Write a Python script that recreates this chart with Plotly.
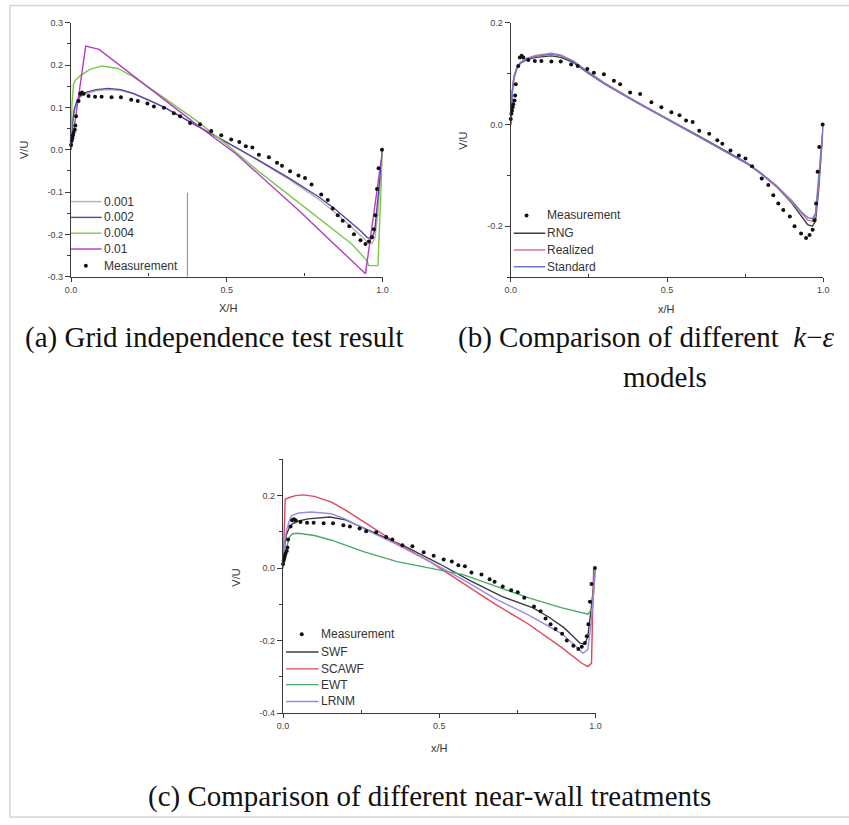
import plotly.graph_objects as go

W, H = 849, 825

# ---------------- measurement (shared) ----------------
meas_x = [0, 0.002, 0.004, 0.006, 0.008, 0.012, 0.014, 0.016, 0.024, 0.029, 0.035, 0.04, 0.056, 0.077,
          0.098, 0.13, 0.16, 0.193, 0.214, 0.245, 0.266, 0.298, 0.33, 0.35, 0.382, 0.414, 0.45, 0.482,
          0.514, 0.54, 0.561, 0.582, 0.603, 0.635, 0.661, 0.677, 0.703, 0.73, 0.751, 0.772, 0.803,
          0.824, 0.84, 0.856, 0.872, 0.893, 0.908, 0.929, 0.945, 0.956, 0.966, 0.972, 0.977, 0.982,
          0.987, 0.998]
meas_y = [0.011, 0.021, 0.027, 0.034, 0.04, 0.047, 0.057, 0.079, 0.115, 0.132, 0.135, 0.132, 0.127,
          0.125, 0.125, 0.124, 0.124, 0.118, 0.115, 0.109, 0.102, 0.099, 0.086, 0.079, 0.063, 0.06,
          0.044, 0.034, 0.024, 0.018, 0.008, 0.005, -0.012, -0.018, -0.031, -0.038, -0.051, -0.061,
          -0.067, -0.082, -0.106, -0.119, -0.139, -0.155, -0.168, -0.181, -0.2, -0.214, -0.223,
          -0.217, -0.207, -0.188, -0.155, -0.093, -0.044, 0.0]

# ---------------- panel (a): grid independence ----------------
a_names = ["0.001", "0.002", "0.004", "0.01"]
a_colors = ["#c4a9a6", "#4b48a8", "#7cc94a", "#b53ac4"]
a_x_001 = [0, 0.005, 0.01, 0.02, 0.03, 0.05, 0.08, 0.12, 0.16, 0.2, 0.25, 0.3, 0.4, 0.5, 0.6, 0.7,
           0.75, 0.8, 0.85, 0.9, 0.93, 0.95, 0.965, 0.975, 0.985, 1.0]
a_y_001 = [0, 0.06, 0.09, 0.115, 0.125, 0.133, 0.139, 0.142, 0.14, 0.132, 0.116, 0.1, 0.058, 0.018,
           -0.025, -0.07, -0.095, -0.12, -0.15, -0.182, -0.203, -0.218, -0.222, -0.21, -0.15, 0.0]
a_x_002 = a_x_001
a_y_002 = [0, 0.065, 0.095, 0.118, 0.128, 0.136, 0.142, 0.145, 0.142, 0.133, 0.117, 0.1, 0.058, 0.018,
           -0.024, -0.067, -0.09, -0.114, -0.142, -0.172, -0.192, -0.207, -0.21, -0.19, -0.12, 0.0]
a_x_004 = [0, 0.003, 0.008, 0.015, 0.03, 0.06, 0.1, 0.15, 0.2, 0.25, 0.3, 0.4, 0.5, 0.6, 0.7, 0.8,
           0.9, 0.95, 0.955, 0.985, 1.0]
a_y_004 = [0, 0.11, 0.155, 0.165, 0.175, 0.19, 0.198, 0.192, 0.172, 0.148, 0.122, 0.07, 0.012, -0.05,
           -0.107, -0.165, -0.222, -0.262, -0.274, -0.274, 0.0]
a_x_01 = [0, 0.01, 0.02, 0.03, 0.047, 0.09, 0.2, 0.317, 0.4, 0.528, 0.6, 0.739, 0.8, 0.9, 0.945, 1.0]
a_y_01 = [0, 0.05, 0.11, 0.15, 0.245, 0.237, 0.174, 0.107, 0.061, -0.009, -0.056, -0.149, -0.192,
          -0.262, -0.293, 0.0]

# ---------------- panel (b): k-epsilon models ----------------
b_names = ["RNG", "Realized", "Standard"]
b_colors = ["#3c3c3c", "#d4788a", "#6a78d6"]
b_x = [0, 0.005, 0.01, 0.02, 0.03, 0.05, 0.08, 0.13, 0.16, 0.2, 0.25, 0.3, 0.4, 0.5, 0.6, 0.7, 0.76,
       0.8, 0.85, 0.9, 0.93, 0.95, 0.965, 0.975, 0.985, 1.0]
b_y_rng = [0, 0.065, 0.092, 0.112, 0.12, 0.127, 0.132, 0.135, 0.132, 0.122, 0.1, 0.08, 0.045, 0.012,
           -0.022, -0.056, -0.077, -0.096, -0.122, -0.155, -0.18, -0.197, -0.2, -0.19, -0.13, 0.0]
b_y_realized = [0, 0.066, 0.094, 0.114, 0.122, 0.13, 0.136, 0.14, 0.137, 0.125, 0.103, 0.082, 0.046,
                0.012, -0.023, -0.058, -0.079, -0.097, -0.122, -0.153, -0.175, -0.188, -0.19, -0.18,
                -0.12, 0.0]
b_y_standard = [0, 0.064, 0.091, 0.111, 0.12, 0.128, 0.134, 0.138, 0.135, 0.124, 0.101, 0.08, 0.044,
                0.01, -0.024, -0.058, -0.078, -0.095, -0.12, -0.15, -0.172, -0.183, -0.185, -0.175,
                -0.11, 0.0]

# ---------------- panel (c): near-wall treatments ----------------
c_names = ["SWF", "SCAWF", "EWT", "LRNM"]
c_colors = ["#3c3c3c", "#e0485a", "#4aa86a", "#9a8ae6"]
c_x_swf = [0, 0.005, 0.01, 0.02, 0.03, 0.05, 0.08, 0.12, 0.15, 0.2, 0.25, 0.3, 0.4, 0.5, 0.6, 0.7,
           0.8, 0.85, 0.9, 0.93, 0.95, 0.965, 0.975, 0.985, 1.0]
c_y_swf = [0, 0.06, 0.09, 0.112, 0.122, 0.13, 0.136, 0.14, 0.141, 0.133, 0.114, 0.096, 0.056, 0.012,
           -0.035, -0.078, -0.11, -0.135, -0.165, -0.19, -0.207, -0.21, -0.19, -0.12, 0.0]
c_x_scawf = [0, 0.003, 0.007, 0.02, 0.04, 0.065, 0.1, 0.155, 0.2, 0.26, 0.365, 0.47, 0.576, 0.68,
             0.786, 0.89, 0.955, 0.975, 0.987, 0.994]
c_y_scawf = [0, 0.12, 0.19, 0.195, 0.2, 0.202, 0.198, 0.182, 0.16, 0.127, 0.068, 0.018, -0.041, -0.1,
             -0.155, -0.218, -0.262, -0.272, -0.263, 0.0]
c_x_ewt = [0, 0.01, 0.02, 0.03, 0.05, 0.1, 0.155, 0.26, 0.365, 0.47, 0.576, 0.68, 0.786, 0.89, 0.95,
           0.976, 0.99, 1.0]
c_y_ewt = [0, 0.05, 0.085, 0.095, 0.096, 0.09, 0.077, 0.045, 0.018, 0.0, -0.018, -0.05, -0.082,
           -0.109, -0.122, -0.127, -0.11, 0.0]
c_x_lrnm = [0, 0.005, 0.01, 0.02, 0.028, 0.05, 0.092, 0.155, 0.2, 0.26, 0.365, 0.47, 0.576, 0.68,
            0.786, 0.89, 0.93, 0.96, 0.975, 0.985, 1.0]
c_y_lrnm = [0, 0.07, 0.1, 0.13, 0.145, 0.152, 0.155, 0.15, 0.135, 0.108, 0.065, 0.018, -0.032, -0.085,
            -0.13, -0.18, -0.21, -0.235, -0.225, -0.16, 0.0]

# tick labels
x_tickvals = [0, 0.5, 1.0]
x_ticktext = ["0.0", "0.5", "1.0"]
a_ytickvals = [-0.3, -0.2, -0.1, 0.0, 0.1, 0.2, 0.3]
a_yticktext = ["-0.3", "-0.2", "-0.1", "0.0", "0.1", "0.2", "0.3"]
b_ytickvals = [-0.2, 0.0, 0.2]
b_yticktext = ["-0.2", "0.0", "0.2"]
c_ytickvals = [-0.4, -0.2, 0.0, 0.2]
c_yticktext = ["-0.4", "-0.2", "0.0", "0.2"]

captions = ["(a) Grid independence test result",
            "(b) Comparison of different  <i>k</i>\u2212<i>\u03b5</i>",
            "models",
            "(c) Comparison of different near-wall treatments"]


def fx(px):
    return px / W


def fy(py):
    return 1 - py / H


fig = go.Figure()

LW = 1.4
# panel a
for xs, ys, nm, col in zip([a_x_001, a_x_002, a_x_004, a_x_01], [a_y_001, a_y_002, a_y_004, a_y_01],
                           a_names, a_colors):
    fig.add_trace(go.Scatter(x=xs, y=ys, mode="lines", name=nm, line=dict(color=col, width=LW),
                             xaxis="x", yaxis="y", showlegend=False, cliponaxis=False))
fig.add_trace(go.Scatter(x=meas_x, y=meas_y, mode="markers", name="Measurement",
                         marker=dict(color="#111", size=4), xaxis="x", yaxis="y",
                         showlegend=False, cliponaxis=False))
# panel b
for ys, nm, col in zip([b_y_rng, b_y_realized, b_y_standard], b_names, b_colors):
    fig.add_trace(go.Scatter(x=b_x, y=ys, mode="lines", name=nm, line=dict(color=col, width=LW),
                             xaxis="x2", yaxis="y2", showlegend=False, cliponaxis=False))
fig.add_trace(go.Scatter(x=meas_x, y=meas_y, mode="markers", name="Measurement",
                         marker=dict(color="#111", size=4), xaxis="x2", yaxis="y2",
                         showlegend=False, cliponaxis=False))
# panel c
for xs, ys, nm, col in zip([c_x_swf, c_x_scawf, c_x_ewt, c_x_lrnm],
                           [c_y_swf, c_y_scawf, c_y_ewt, c_y_lrnm], c_names, c_colors):
    fig.add_trace(go.Scatter(x=xs, y=ys, mode="lines", name=nm, line=dict(color=col, width=LW),
                             xaxis="x3", yaxis="y3", showlegend=False, cliponaxis=False))
fig.add_trace(go.Scatter(x=meas_x, y=meas_y, mode="markers", name="Measurement",
                         marker=dict(color="#111", size=4), xaxis="x3", yaxis="y3",
                         showlegend=False, cliponaxis=False))

tickfont = dict(family="Liberation Sans, Arial", size=9, color="#444")


def xax(dom, anchor):
    return dict(domain=dom, anchor=anchor, range=[0, 1.0], tickvals=x_tickvals, ticktext=x_ticktext,
                showline=True, linecolor="#3a3a3a", linewidth=1.4, ticks="outside", ticklen=4,
                tickwidth=1.2, tickcolor="#3a3a3a", showgrid=False, zeroline=False, tickfont=tickfont,
                minor=dict(tickvals=[0.25, 0.75], ticks="inside", ticklen=3, tickcolor="#3a3a3a",
                           showgrid=False))


def yax(dom, anchor, rng, tv, tt, minor_vals):
    return dict(domain=dom, anchor=anchor, range=rng, tickvals=tv, ticktext=tt,
                showline=True, linecolor="#3a3a3a", linewidth=1.4, ticks="outside", ticklen=5,
                tickwidth=1.2, tickcolor="#3a3a3a", showgrid=False, zeroline=False, tickfont=tickfont,
                minor=dict(tickvals=minor_vals, ticks="outside", ticklen=3, tickcolor="#3a3a3a",
                           showgrid=False))


a_dom_x = [fx(66), fx(382)]
a_dom_y = [fy(275), fy(18)]
b_dom_x = [fx(512), fx(829)]
b_dom_y = [fy(275.5), fy(18)]
c_dom_x = [fx(281), fx(598)]
c_dom_y = [fy(716.7), fy(460)]

fig.update_layout(
    width=W, height=H, margin=dict(l=0, r=0, t=0, b=0),
    paper_bgcolor="white", plot_bgcolor="white", showlegend=False,
    xaxis=xax(a_dom_x, "y"),
    yaxis=yax(a_dom_y, "x", [-0.3, 0.3], a_ytickvals, a_yticktext,
              [-0.25, -0.15, -0.05, 0.05, 0.15, 0.25]),
    xaxis2=xax(b_dom_x, "y2"),
    yaxis2=yax(b_dom_y, "x2", [-0.3, 0.2], b_ytickvals, b_yticktext, [-0.3, -0.1, 0.1]),
    xaxis3=xax(c_dom_x, "y3"),
    yaxis3=yax(c_dom_y, "x3", [-0.4, 0.3], c_ytickvals, c_yticktext, [-0.3, -0.1, 0.1, 0.3]),
)

annotations = []
shapes = []

# axis titles
title_font = dict(family="Liberation Sans, Arial", size=11, color="#333")
for txt, x, y, ang in [("V/U", 18, 147, -90), ("X/H", 225, 307, 0),
                       ("V/U", 464, 137, -90), ("x/H", 670, 308, 0),
                       ("V/U", 233, 580, -90), ("x/H", 440, 752, 0)]:
    annotations.append(dict(text=txt, x=fx(x), y=fy(y), xref="paper", yref="paper", showarrow=False,
                            xanchor="center", yanchor="middle", textangle=ang, font=title_font))

# legends (drawn as keys next to each panel)
leg_font = dict(family="Liberation Sans, Arial", size=12, color="#333")


def add_legend(entries, x_line0, x_line1, x_text, x_dot, y_list):
    for (kind, name, col), yy in zip(entries, y_list):
        if kind == "line":
            shapes.append(dict(type="line", xref="paper", yref="paper", x0=fx(x_line0), x1=fx(x_line1),
                               y0=fy(yy), y1=fy(yy), line=dict(color=col, width=1.4)))
        else:
            shapes.append(dict(type="circle", xref="paper", yref="paper", x0=fx(x_dot - 2),
                               x1=fx(x_dot + 2), y0=fy(yy + 2), y1=fy(yy - 2),
                               fillcolor="#111", line=dict(color="#111", width=0)))
        annotations.append(dict(text=name, x=fx(x_text), y=fy(yy), xref="paper", yref="paper",
                                showarrow=False, xanchor="left", yanchor="middle", font=leg_font))


a_entries = [("line", n, c) for n, c in zip(a_names, a_colors)] + [("dot", "Measurement", "#111")]
add_legend(a_entries, 66, 97, 97, 81, [199, 215, 231, 247, 264])
b_entries = [("dot", "Measurement", "#111")] + [("line", n, c) for n, c in zip(b_names, b_colors)]
add_legend(b_entries, 515, 547, 547, 528, [213, 231, 248, 265])
c_entries = [("dot", "Measurement", "#111")] + [("line", n, c) for n, c in zip(c_names, c_colors)]
add_legend(c_entries, 284, 317, 317, 300, [637, 655, 672, 688, 705])

# legend frame edge in panel (a)
shapes.append(dict(type="line", xref="paper", yref="paper", x0=fx(184), x1=fx(184),
                   y0=fy(275), y1=fy(190), line=dict(color="#888", width=1)))

# captions
cap_font = dict(family="Liberation Serif, Times New Roman", size=29, color="#111")
annotations.append(dict(text=captions[0], x=fx(211), y=fy(337), xref="paper", yref="paper",
                        showarrow=False, xanchor="center", yanchor="middle", font=cap_font))
annotations.append(dict(text=captions[1], x=fx(456), y=fy(337), xref="paper", yref="paper",
                        showarrow=False, xanchor="left", yanchor="middle", font=cap_font))
annotations.append(dict(text=captions[2], x=fx(668), y=fy(377), xref="paper", yref="paper",
                        showarrow=False, xanchor="center", yanchor="middle", font=cap_font))
annotations.append(dict(text=captions[3], x=fx(430), y=fy(801), xref="paper", yref="paper",
                        showarrow=False, xanchor="center", yanchor="middle", font=cap_font))

# image frame
shapes.append(dict(type="rect", xref="paper", yref="paper", x0=fx(4), x1=fx(860), y0=fy(822),
                   y1=fy(0.5), line=dict(color="#d4d4d4", width=1.5), layer="below"))

fig.update_layout(annotations=annotations, shapes=shapes)
fig.write_html("out.html")
